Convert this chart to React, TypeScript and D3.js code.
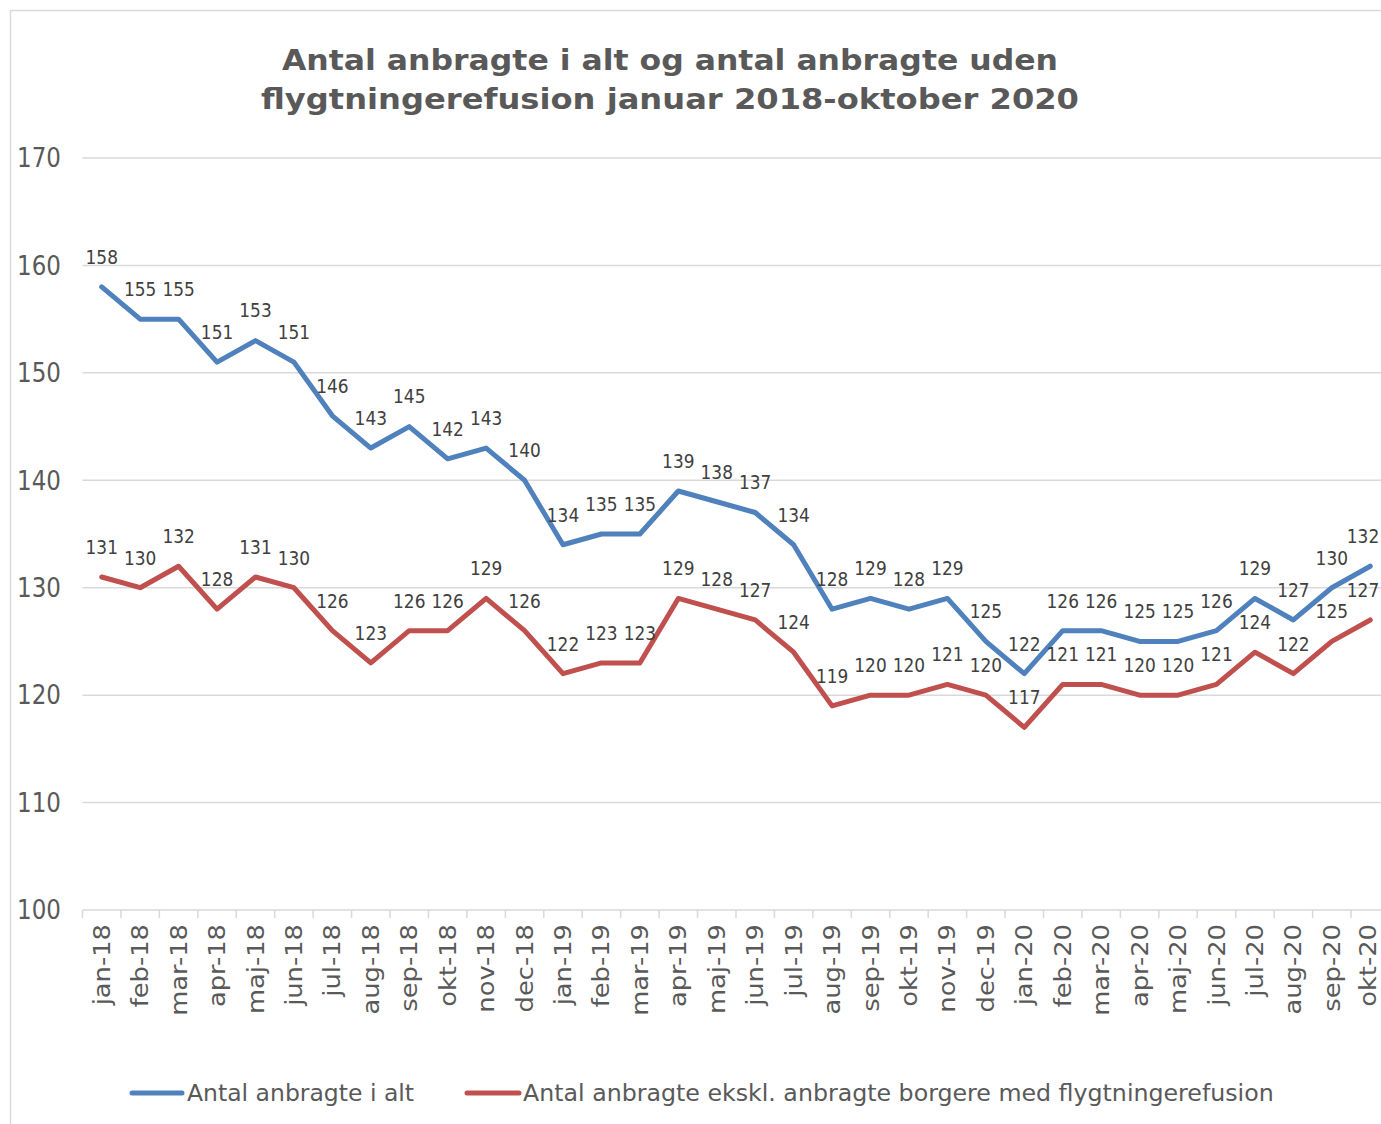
import React from 'react';
import * as d3 from 'd3';

const months = [
  'jan-18', 'feb-18', 'mar-18', 'apr-18', 'maj-18', 'jun-18', 'jul-18', 'aug-18', 'sep-18', 'okt-18', 'nov-18', 'dec-18',
  'jan-19', 'feb-19', 'mar-19', 'apr-19', 'maj-19', 'jun-19', 'jul-19', 'aug-19', 'sep-19', 'okt-19', 'nov-19', 'dec-19',
  'jan-20', 'feb-20', 'mar-20', 'apr-20', 'maj-20', 'jun-20', 'jul-20', 'aug-20', 'sep-20', 'okt-20',
];

const total = [
  158, 155, 155, 151, 153, 151, 146, 143, 145, 142, 143, 140,
  134, 135, 135, 139, 138, 137, 134, 128, 129, 128, 129, 125,
  122, 126, 126, 125, 125, 126, 129, 127, 130, 132,
];

const exclRefusion = [
  131, 130, 132, 128, 131, 130, 126, 123, 126, 126, 129, 126,
  122, 123, 123, 129, 128, 127, 124, 119, 120, 120, 121, 120,
  117, 121, 121, 120, 120, 121, 124, 122, 125, 127,
];

const yTicks = [100, 110, 120, 130, 140, 150, 160, 170];

const titleLines = [
  'Antal anbragte i alt og antal anbragte uden',
  'flygtningerefusion januar 2018-oktober 2020',
];

const seriesNames = [
  'Antal anbragte i alt',
  'Antal anbragte ekskl. anbragte borgere med flygtningerefusion',
];

const FONT = '"DejaVu Sans", Verdana, sans-serif';
// digits in the reference look a bit taller than DejaVu's
const S = 1.12;

export default function App() {
  const width = 1381;
  const height = 1124;

  const x = d3.scaleBand().domain(months).range([82.5, 82.5 + 34 * 38.44]);
  const y = d3.scaleLinear().domain([100, 170]).range([910, 158]);
  const cx = (m) => (x(m) as number) + x.bandwidth() / 2;

  const line = d3
    .line<number>()
    .x((d, i) => cx(months[i]))
    .y((d) => y(d));

  const series = [
    { name: seriesNames[0], data: total, color: '#4F81BD' },
    { name: seriesNames[1], data: exclRefusion, color: '#C0504D' },
  ];

  const tickEdges = months.map((m) => x(m) as number);
  // title widths as measured on the reference (Verdana bold is wider than DejaVu)
  const titleWidths = [776, 818];

  return (
    <svg
      width={width}
      height={height}
      style={{ position: 'absolute', left: 0, top: 0, background: '#fff' }}
      fontFamily={FONT}
    >
      <rect x={10.5} y={10.5} width={1400} height={1200} fill="#fff" stroke="#d9d9d9" strokeWidth={1.5} />

      {titleLines.map((t, i) => (
        <text
          key={t}
          x={670 - titleWidths[i] / 2}
          y={60 + i * 39}
          dy="0.35em"
          fontSize={27.5}
          fontWeight="bold"
          fill="#595959"
          textLength={titleWidths[i]}
          lengthAdjust="spacingAndGlyphs"
        >
          {t}
        </text>
      ))}

      {yTicks.map((t) => (
        <g key={t}>
          <line x1={82.5} x2={1390} y1={y(t)} y2={y(t)} stroke="#d9d9d9" strokeWidth={1.5} />
          <text
            transform={`translate(61,${y(t)}) scale(1,${S})`}
            textAnchor="end"
            dy="0.36em"
            fontSize={23}
            fill="#595959"
          >
            {t}
          </text>
        </g>
      ))}

      {tickEdges.map((e, i) => (
        <line key={i} x1={e} x2={e} y1={y(100)} y2={y(100) + 8} stroke="#d9d9d9" strokeWidth={1.5} />
      ))}

      {months.map((m) => (
        <text
          key={m}
          transform={`translate(${Math.min(cx(m), 1368)},924) scale(1,${S}) rotate(-90)`}
          textAnchor="end"
          dy="0.35em"
          fontSize={23}
          fill="#595959"
        >
          {m}
        </text>
      ))}

      {series.map((s) => (
        <path
          key={s.name}
          d={line(s.data) as string}
          fill="none"
          stroke={s.color}
          strokeWidth={5}
          strokeLinejoin="round"
          strokeLinecap="round"
        />
      ))}

      {series.map((s) =>
        s.data.map((v, i) => (
          <text
            key={s.name + i}
            transform={`translate(${Math.min(cx(months[i]), 1363)},${y(v) - 30}) scale(1,${S})`}
            textAnchor="middle"
            dy="0.36em"
            fontSize={17}
            fill="#404040"
          >
            {v}
          </text>
        ))
      )}

      <g>
        <line x1={132} x2={182} y1={1093} y2={1093} stroke={series[0].color} strokeWidth={5} strokeLinecap="round" />
        <text x={187} y={1093} dy="0.35em" fontSize={23.5} fill="#595959">
          {series[0].name}
        </text>
        <line x1={467} x2={519} y1={1093} y2={1093} stroke={series[1].color} strokeWidth={5} strokeLinecap="round" />
        <text x={523} y={1093} dy="0.35em" fontSize={23.7} fill="#595959">
          {series[1].name}
        </text>
      </g>
    </svg>
  );
}
